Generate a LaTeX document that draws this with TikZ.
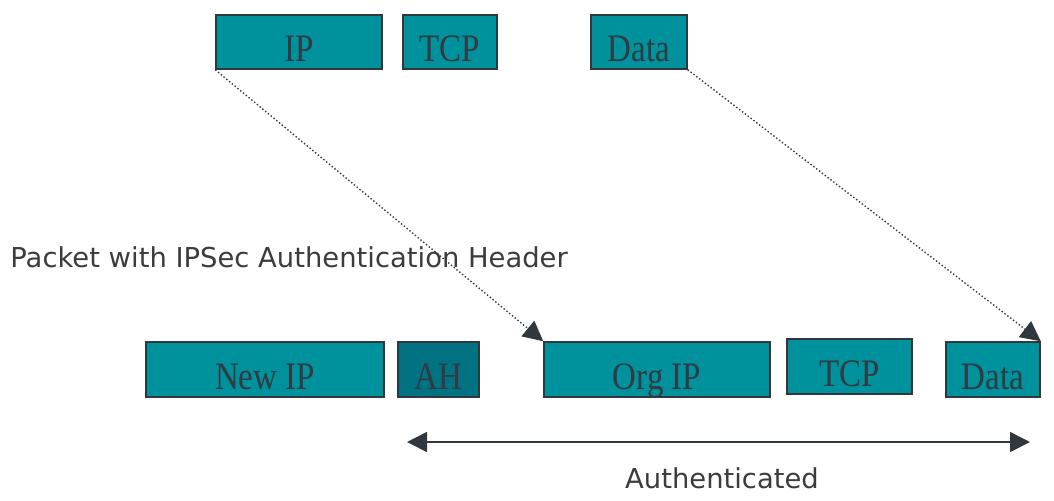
\documentclass[tikz,border=0pt]{standalone}
\usepackage{fontspec}
\usepackage{xcolor}
\usepackage{tikz}
\usetikzlibrary{arrows.meta}

\newfontfamily\timesfont{Liberation Serif}
\newfontfamily\sansfont{DejaVu Sans}

\definecolor{pkt}{RGB}{0,146,156}
\definecolor{pktdark}{RGB}{0,114,130}
\definecolor{boxedge}{RGB}{48,56,62}
\definecolor{ink}{RGB}{50,58,66}
\definecolor{caption}{RGB}{60,60,60}

% serif labels in the fields look a bit taller than wide
\newcommand{\tall}[1]{\scalebox{1}[1.18]{#1}}

\begin{document}
\begin{tikzpicture}[
  x = 0.5pt, y = -0.5pt,
  field/.style     = {draw=boxedge, line width=0.75pt, fill=pkt, inner sep=0pt,
                      text height=23pt, text depth=4pt, text=ink,
                      font=\timesfont\fontsize{16.5}{18}\selectfont},
  lowfield/.style  = {field, text height=23.5pt},
  ahfield/.style   = {lowfield, fill=pktdark},
  copyarrow/.style = {-{Triangle[length=10pt,width=10pt]}, boxedge,
                      line width=0.7pt, dash pattern=on 0.7pt off 1.1pt},
  spanarrow/.style = {{Triangle[length=10pt,width=10pt]}-{Triangle[length=10pt,width=10pt]},
                      boxedge, line width=0.8pt},
  caption/.style   = {inner sep=0pt, text=caption,
                      font=\sansfont\fontsize{13.7}{16}\selectfont}
]
  \useasboundingbox (0,0) rectangle (1054,500);

  % original packet
  \node[field, minimum width=83pt] (ip)   at (299,42) {\tall{IP}};
  \node[field, minimum width=47pt] (tcp)  at (450,42) {\tall{TCP}};
  \node[field, minimum width=48pt] (data) at (639,42) {\tall{Data}};

  \node[caption, anchor=base west] (title) at (10,267)
    {Packet with IPSec Authentication Header};

  % packet with AH
  \node[lowfield, minimum width=119pt]  (newip)  at (265,369.5)   {\tall{New IP}};
  \node[ahfield,  minimum width=40.5pt] (ah)     at (438.5,369.5) {\tall{AH}};
  \node[lowfield, minimum width=113pt]  (orgip)  at (657,369.5)   {\tall{Org IP}};
  \node[lowfield, minimum width=62.5pt] (tcp2)   at (849.5,366.5) {\tall{TCP}};
  \node[lowfield, minimum width=47pt]   (data2)  at (993,369.5)   {\tall{Data}};

  \draw[copyarrow] (ip.south west) -- (orgip.north west);
  \draw[copyarrow] (data.south east) -- (data2.north east);

  \coordinate (authL) at (407,442);
  \coordinate (authR) at (1030,442);
  \draw[spanarrow] (authL) -- (authR);
  \node[caption, anchor=base] (auth) at (722,488) {Authenticated};
\end{tikzpicture}
\end{document}
